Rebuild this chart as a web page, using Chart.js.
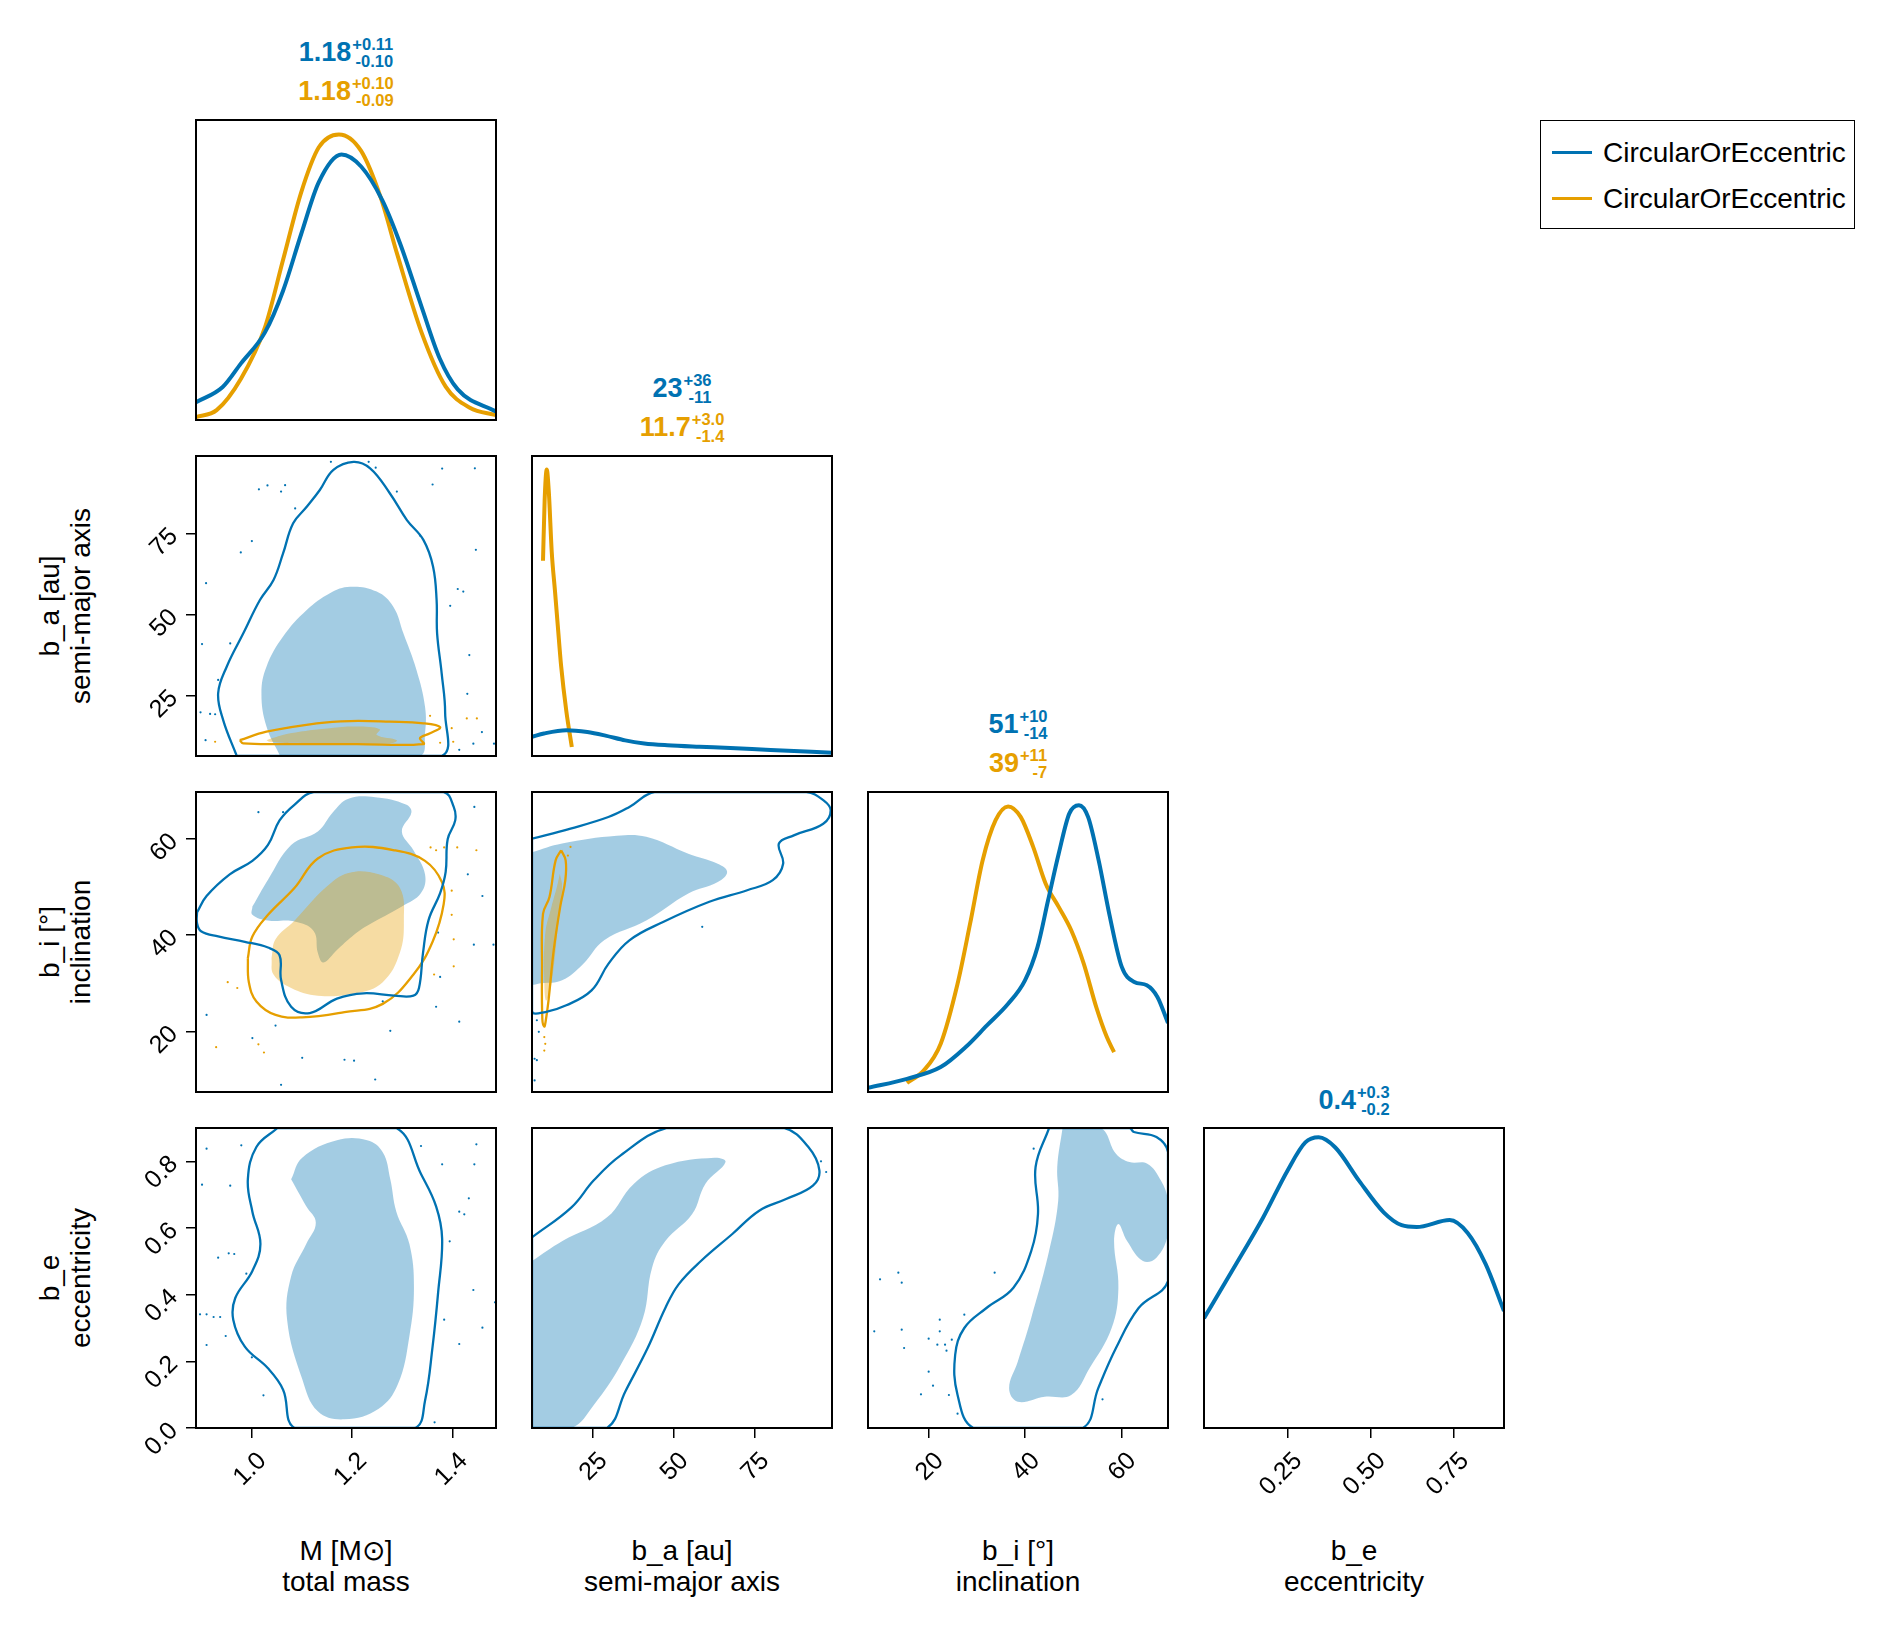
<!DOCTYPE html>
<html>
<head>
<meta charset="utf-8">
<title>corner plot</title>
<script src="https://cdn.jsdelivr.net/npm/chart.js@4.4.1/dist/chart.umd.min.js"></script>
<style>
  body { margin: 0; background: #fff; }
  #fig { position: relative; width: 1888px; height: 1626px; font-family: "Liberation Sans", Arial, sans-serif; overflow: hidden; }
  #fig canvas { position: absolute; }
  .ttl { position: absolute; white-space: nowrap; font-weight: bold; font-size: 27px; line-height: 31px; transform: translateX(-50%); }
  .ss { display: inline-block; font-size: 16.5px; line-height: 17px; text-align: right; position: relative; top: 6px; margin-left: 1px; }
  .ss span { display: block; }
  .lab { position: absolute; width: 400px; height: 62px; font-size: 28px; line-height: 31px; text-align: center; white-space: nowrap; color: #000; }
  .legend { position: absolute; left: 1540px; top: 120px; width: 313px; height: 107px; border: 1.5px solid #000; }
  .legline { position: absolute; left: 11px; width: 40px; height: 2.5px; }
  .legtext { position: absolute; left: 62px; font-size: 28px; line-height: 31px; white-space: nowrap; }
</style>
</head>
<body>
<div id="fig"></div>
<script>
const BLUE = '#0072B2';
const ORANGE = '#E69F00';
const BLUE_FILL = 'rgba(0,114,178,0.36)';
const ORANGE_FILL = 'rgba(230,159,0,0.36)';

// axis limits and ticks
const massRange = [0.89, 1.486];
const axisRange = [6.3, 99];
const inclRange = [7.4, 69.7];
const eccRange = [0, 0.9];
const massTicks = [1.0, 1.2, 1.4];
const axisTicks = [25, 50, 75];
const inclTicks = [20, 40, 60];
const eccTicksX = [0.25, 0.5, 0.75];
const eccTicksY = [0, 0.2, 0.4, 0.6, 0.8];

// labels
const axisNames = [['M [M⊙]', 'total mass'], ['b_a [au]', 'semi-major axis'], ['b_i [°]', 'inclination'], ['b_e', 'eccentricity']];
const legendLabels = ['CircularOrEccentric', 'CircularOrEccentric'];
const statBlue = [['1.18', '+0.11', '-0.10'], ['23', '+36', '-11'], ['51', '+10', '-14'], ['0.4', '+0.3', '-0.2']];
const statOrange = [['1.18', '+0.10', '-0.09'], ['11.7', '+3.0', '-1.4'], ['39', '+11', '-7'], null];

// 1d marginals (x, relative density)
const massDensityBlue = [[0.89,0.059],[0.943,0.11],[0.979,0.188],[1.027,0.292],[1.063,0.431],[1.099,0.62],[1.134,0.793],[1.179,0.885],[1.218,0.845],[1.26,0.733],[1.296,0.586],[1.338,0.378],[1.374,0.206],[1.41,0.102],[1.486,0.028]];
const massDensityOrange = [[0.89,0.01],[0.931,0.033],[0.979,0.137],[1.027,0.309],[1.063,0.534],[1.099,0.759],[1.134,0.909],[1.174,0.952],[1.218,0.897],[1.257,0.741],[1.29,0.551],[1.338,0.292],[1.386,0.111],[1.434,0.041],[1.486,0.016]];
const axisDensityBlue = [[6.3,0.064],[10,0.075],[16.9,0.086],[23.4,0.08],[29,0.068],[35.1,0.052],[41,0.042],[48.1,0.036],[58,0.031],[67.6,0.027],[80,0.02],[99,0.011]];
const axisDensityOrange = [[9.7,0.651],[10.2,0.85],[10.85,0.955],[11.5,0.88],[12.4,0.68],[13.4,0.55],[14.3,0.43],[15.3,0.3],[16.9,0.15],[18.6,0.03]];
const inclDensityBlue = [[7.4,0.014],[15.5,0.044],[22.5,0.083],[27.7,0.15],[32.1,0.222],[36.5,0.294],[40.0,0.372],[42.6,0.483],[44.8,0.639],[47.0,0.794],[49.2,0.928],[51.2,0.956],[53.1,0.917],[55.3,0.772],[57.5,0.594],[60.1,0.417],[62.7,0.367],[65.3,0.356],[67.5,0.317],[69.7,0.23]];
const inclDensityOrange = [[15.5,0.03],[19.0,0.072],[22.5,0.161],[26.0,0.361],[28.6,0.561],[31.2,0.772],[33.9,0.906],[36.5,0.952],[39.1,0.917],[41.7,0.817],[44.3,0.694],[47.0,0.617],[49.6,0.539],[52.2,0.428],[54.8,0.283],[57.0,0.183],[58.5,0.133]];
const eccDensityBlue = [[0,0.366],[0.087,0.529],[0.177,0.701],[0.25,0.857],[0.304,0.952],[0.344,0.969],[0.394,0.935],[0.466,0.823],[0.539,0.719],[0.593,0.676],[0.638,0.67],[0.737,0.693],[0.791,0.65],[0.845,0.546],[0.9,0.39]];

// 2d credible regions: outer lines and inner filled areas
const massAxisBlueOuter = [[0.971,6.3],[0.944,17.4],[0.934,25.7],[0.951,33.9],[0.984,44.2],[1.017,54.5],[1.044,60.7],[1.063,68.9],[1.083,78.2],[1.11,83.3],[1.136,88.5],[1.163,94.7],[1.203,97.2],[1.236,95.2],[1.275,87.5],[1.309,79.2],[1.342,73.0],[1.361,64.8],[1.368,54.5],[1.369,44.2],[1.378,31.9],[1.385,19.5],[1.378,6.3],[1.17,6.3]];
const massAxisBlueInner = [[1.057,6.3],[1.03,15.4],[1.02,25.7],[1.03,33.9],[1.063,43.2],[1.11,51.4],[1.156,56.6],[1.196,58.6],[1.249,57.1],[1.282,52.4],[1.302,44.2],[1.328,32.9],[1.345,21.5],[1.345,13.3],[1.335,6.3],[1.2,6.3]];
const massAxisOrangeOuter = [[0.977,11.2],[1.03,13.8],[1.13,16.4],[1.196,17.1],[1.275,16.9],[1.342,16.4],[1.375,15.2],[1.355,13.3],[1.335,11.8],[1.342,10.0],[1.209,10.0],[1.077,10.0],[0.984,10.2]];
const massAxisOrangeInner = [[1.03,11.2],[1.077,13.3],[1.156,14.9],[1.209,15.4],[1.255,14.6],[1.249,12.8],[1.289,11.2],[1.275,10.2],[1.143,10.2],[1.037,10.7]];
const massAxisDotsBlue = [[1.158,97.2],[1.233,97.2],[1.247,95.4],[1.379,95.1],[1.444,95.2],[1.015,88.7],[1.032,89.9],[1.059,88.0],[1.067,90.0],[1.087,82.8],[1.289,88.0],[1.36,90.2],[1.001,72.7],[0.979,69.2],[1.335,74.4],[1.446,70.0],[0.91,59.7],[1.41,57.9],[1.421,57.1],[1.395,52.7],[0.902,40.9],[0.958,41.1],[1.433,37.5],[0.934,29.8],[1.429,25.5],[0.899,19.8],[0.918,19.3],[0.928,19.2],[0.909,11.2],[1.458,13.7],[1.441,10.1],[1.482,10.1],[1.413,8.2]];
const massAxisDotsOrange = [[0.928,10.7],[1.401,10.7],[1.428,17.9],[1.448,17.9],[1.355,18.7],[1.398,14.9],[1.375,10.4]];

const massInclBlueOuter = [[0.892,44.7],[0.911,48.1],[0.957,52.6],[1.002,55.4],[1.033,58.7],[1.056,63.8],[1.086,67.1],[1.124,69.7],[1.25,69.7],[1.382,69.7],[1.402,66.6],[1.405,63.8],[1.39,59.9],[1.386,53.1],[1.375,48.7],[1.352,43.1],[1.341,36.3],[1.333,29.0],[1.322,27.4],[1.284,27.4],[1.223,27.9],[1.17,26.8],[1.116,23.8],[1.079,25.1],[1.059,30.7],[1.056,35.8],[1.033,37.4],[0.987,38.6],[0.934,39.7],[0.9,40.8],[0.892,42.5]];
const massInclBlueInner = [[1.002,45.9],[1.033,51.5],[1.079,58.7],[1.132,61.5],[1.162,65.5],[1.193,68.3],[1.246,68.6],[1.307,67.1],[1.318,65.5],[1.299,61.5],[1.322,57.6],[1.345,52.6],[1.337,48.7],[1.299,45.9],[1.23,41.9],[1.2,39.7],[1.17,36.9],[1.143,34.3],[1.132,36.3],[1.124,40.8],[1.086,42.8],[1.033,43.0],[1.002,44.2]];
const massInclOrangeOuter = [[0.993,35.2],[1.002,39.7],[1.033,44.2],[1.086,49.8],[1.132,55.9],[1.2,58.2],[1.284,57.6],[1.345,55.4],[1.379,50.9],[1.382,46.4],[1.36,38.6],[1.322,31.8],[1.261,25.7],[1.185,24.0],[1.101,22.9],[1.048,23.4],[1.01,26.2],[0.995,30.2]];
const massInclOrangeInner = [[1.04,35.2],[1.048,39.1],[1.086,43.0],[1.147,49.8],[1.193,52.9],[1.253,52.6],[1.295,49.8],[1.303,43.0],[1.295,36.3],[1.261,30.2],[1.208,27.9],[1.132,27.4],[1.079,29.0],[1.044,31.8]];
const massInclDotsBlue = [[1.014,65.5],[1.063,65.5],[1.443,66.6],[1.43,52.6],[1.459,48.1],[1.442,38.0],[1.413,22.0],[1.371,40.5],[1.375,31.3],[0.911,23.4],[1.002,18.6],[1.048,21.2],[1.059,8.9],[1.101,14.5],[1.185,14.1],[1.204,13.9],[1.246,10.0],[1.276,20.1],[1.367,25.1],[1.481,38.0],[1.261,26.2]];
const massInclDotsOrange = [[1.356,58.2],[1.367,57.6],[1.383,58.2],[1.409,58.2],[1.447,57.6],[1.398,44.2],[1.402,39.1],[1.402,33.5],[1.363,31.8],[0.93,16.7],[0.953,30.2],[0.972,29.0],[1.014,17.3],[1.025,15.6],[1.398,49.2]];

const massEccBlueOuter = [[1.052,0.9],[1.01,0.843],[0.993,0.746],[1.002,0.649],[1.018,0.552],[1.002,0.471],[0.968,0.39],[0.964,0.325],[0.987,0.244],[1.033,0.179],[1.063,0.115],[1.086,0],[1.2,0],[1.325,0],[1.345,0.082],[1.36,0.244],[1.371,0.406],[1.379,0.568],[1.367,0.665],[1.337,0.762],[1.288,0.9],[1.17,0.9]];
const massEccBlueInner = [[1.079,0.746],[1.101,0.811],[1.17,0.863],[1.23,0.863],[1.261,0.827],[1.276,0.746],[1.288,0.649],[1.314,0.552],[1.323,0.422],[1.314,0.276],[1.291,0.131],[1.253,0.058],[1.185,0.026],[1.132,0.05],[1.101,0.147],[1.071,0.325],[1.079,0.455],[1.109,0.552],[1.128,0.616],[1.109,0.665]];
const massEccDotsBlue = [[0.911,0.838],[0.98,0.848],[0.902,0.73],[0.958,0.727],[0.934,0.511],[0.955,0.524],[0.966,0.522],[0.99,0.463],[0.911,0.341],[0.898,0.341],[0.925,0.333],[0.938,0.333],[0.949,0.276],[0.911,0.249],[1.001,0.212],[1.024,0.098],[1.337,0.846],[1.447,0.851],[1.443,0.791],[1.379,0.791],[1.432,0.689],[1.413,0.649],[1.423,0.641],[1.394,0.56],[1.441,0.414],[1.484,0.377],[1.459,0.301],[1.413,0.252],[1.364,0.017],[1.383,0.325]];

const axisInclBlueOuter = [[6.3,60.0],[18.2,62.1],[29.9,64.5],[36.4,66.6],[44.2,69.7],[70,69.7],[91.1,69.7],[96.3,68.0],[98.6,65.9],[96.3,63.1],[87.2,60.7],[82.6,59.0],[83.9,54.8],[80.7,51.4],[72.8,49.3],[61.1,46.9],[46.8,42.7],[36.4,38.9],[29.9,34.0],[24.7,28.5],[16.9,25.4],[10.4,24.0],[6.3,24.2],[6.3,42]];
const axisInclBlueInner = [[6.3,57.2],[15.6,59.0],[32.5,60.6],[41.6,60.4],[54.6,56.9],[63.7,54.8],[66.6,53.1],[63.7,51.0],[54.6,48.6],[41.6,43.0],[28.6,38.9],[22.1,34.0],[15.6,30.6],[9.1,30.0],[6.3,30.0],[6.3,44]];
const axisInclOrangeOuter = [[15.3,57.6],[16.7,55.5],[16.6,51.4],[15.0,45.8],[13.0,36.8],[11.4,26.4],[10.5,22.0],[10.1,21.0],[9.5,22.5],[9.4,33.4],[9.7,44.4],[11.7,47.9],[13.6,55.5]];
const axisInclOrangeInner = [[14.9,52.7],[15.6,50.0],[14.3,41.7],[12.3,29.9],[10.7,26.4],[10.1,29.9],[10.4,40.3],[12.3,45.8],[14.0,50.0]];
const axisInclDotsBlue = [[7.8,22.3],[8.4,19.9],[7.1,14.3],[7.8,14.0],[7.1,9.8],[58.9,41.7]];
const axisInclDotsOrange = [[10.1,18.8],[10.1,16.0],[10.4,17.4],[18.2,58.3],[17.4,56.5]];

const axisEccBlueOuter = [[6.3,0.572],[18.5,0.662],[25.4,0.743],[33.7,0.818],[48.0,0.9],[66,0.9],[84.1,0.9],[91.7,0.843],[95.1,0.773],[93.1,0.727],[84.8,0.687],[76.5,0.652],[68.2,0.582],[58.5,0.501],[51.6,0.431],[47.5,0.36],[42.0,0.239],[35.1,0.109],[29.5,0],[18,0],[6.3,0],[6.3,0.3]];
const axisEccBlueInner = [[6.3,0.501],[15.7,0.561],[29.5,0.632],[37.8,0.733],[47.5,0.788],[62.7,0.811],[66.1,0.798],[59.9,0.733],[55.8,0.642],[47.5,0.561],[43.4,0.481],[40.6,0.33],[33.7,0.189],[25.4,0.069],[18.5,0],[6.3,0],[6.3,0.25]];
const axisEccDotsBlue = [[95.6,0.8],[97.2,0.768]];

const inclEccBlueOuter = [[45.0,0.9],[42.2,0.783],[42.7,0.642],[41.3,0.531],[37.6,0.421],[32.0,0.36],[27.4,0.3],[25.5,0.219],[26.0,0.099],[29.3,0],[40,0],[52.0,0],[55.2,0.119],[58.9,0.24],[63.6,0.36],[69.7,0.441],[69.7,0.65],[69.7,0.828],[67.3,0.873],[62.6,0.888],[61.7,0.9],[53,0.9]];
const inclEccBlueInner = [[47.8,0.9],[55.7,0.9],[58.9,0.823],[61.7,0.798],[65.4,0.793],[68.2,0.743],[69.7,0.682],[69.7,0.582],[67.3,0.511],[64.5,0.501],[61.2,0.561],[59.4,0.612],[58.5,0.561],[59.4,0.421],[58.0,0.3],[53.4,0.179],[49.6,0.099],[44.1,0.094],[38.5,0.079],[36.7,0.119],[38.5,0.199],[41.3,0.33],[45.0,0.531],[46.9,0.682],[46.7,0.783]];
const inclEccDotsBlue = [[9.9,0.446],[13.7,0.466],[14.4,0.436],[14.4,0.295],[14.9,0.24],[20.0,0.268],[22.3,0.325],[22.3,0.29],[21.8,0.25],[23.4,0.25],[23.7,0.232],[24.8,0.265],[20.0,0.169],[18.4,0.101],[20.9,0.127],[24.2,0.099],[26.0,0.043],[27.4,0.34],[33.7,0.466],[41.8,0.838],[56.1,0.086],[8.7,0.29]];

// layout of the grid (px)
const PANEL_X0 = 196, PANEL_Y0 = 120, STEP = 336, SIZE = 300;
const MARGIN_L = 100, MARGIN_T = 10, MARGIN_R = 10, MARGIN_B = 100;

const pts = arr => arr.map(([x, y]) => ({x, y}));
const closed = arr => pts(arr.concat([arr[0]]));

function curve(data, color) {
  return {data: pts(data), borderColor: color, borderWidth: 4, pointRadius: 0, cubicInterpolationMode: 'monotone', fill: false, order: 1};
}
function contour(data, color) {
  return {data: closed(data), borderColor: color, borderWidth: 2.3, pointRadius: 0, tension: 0.4, fill: false, order: 1};
}
function region(data, color) {
  return {data: closed(data), borderColor: 'transparent', borderWidth: 0, pointRadius: 0, tension: 0.4, fill: false, areaFill: color, order: 3};
}
function dots(data, color) {
  return {data: pts(data), showLine: false, pointRadius: 1.1, pointBorderWidth: 0, pointBackgroundColor: color, order: 2};
}

// fill a closed dataset path inside the chart area
const regionFill = {
  id: 'regionFill',
  beforeDatasetDraw(chart, args) {
    const ds = chart.data.datasets[args.index];
    if (!ds.areaFill) return;
    const meta = args.meta;
    const a = chart.chartArea;
    const ctx = chart.ctx;
    if (meta.dataset && meta.dataset.updateControlPoints) meta.dataset.updateControlPoints(a, 'x');
    const p = meta.data;
    ctx.save();
    ctx.beginPath();
    ctx.rect(a.left, a.top, a.right - a.left, a.bottom - a.top);
    ctx.clip();
    ctx.beginPath();
    p.forEach((pt, i) => {
      if (i === 0) { ctx.moveTo(pt.x, pt.y); return; }
      const q = p[i - 1];
      if (q.cp2x !== undefined && pt.cp1x !== undefined) ctx.bezierCurveTo(q.cp2x, q.cp2y, pt.cp1x, pt.cp1y, pt.x, pt.y);
      else ctx.lineTo(pt.x, pt.y);
    });
    ctx.closePath();
    ctx.fillStyle = ds.areaFill;
    ctx.fill();
    ctx.restore();
    return false;
  }
};

const frame = {
  id: 'frame',
  afterDatasetsDraw(chart) {
    const {ctx, chartArea: a} = chart;
    ctx.save();
    ctx.strokeStyle = '#000';
    ctx.lineWidth = 2;
    ctx.strokeRect(a.left, a.top, a.right - a.left, a.bottom - a.top);
    ctx.restore();
  }
};

// rotated tick labels (45 deg) for both axes
const tickText = {
  id: 'tickText',
  afterDraw(chart, args, opts) {
    const ctx = chart.ctx, a = chart.chartArea;
    ctx.save();
    ctx.fillStyle = '#000';
    ctx.font = '25px "Liberation Sans", Arial, sans-serif';
    ctx.textAlign = 'right';
    ctx.textBaseline = 'middle';
    const put = (txt, x, y) => {
      ctx.save();
      ctx.translate(x, y);
      ctx.rotate(-Math.PI / 4);
      ctx.fillText(txt, 0, 0);
      ctx.restore();
    };
    if (opts.xDec >= 0) {
      const s = chart.scales.x;
      s.ticks.forEach(t => put(t.value.toFixed(opts.xDec), s.getPixelForValue(t.value) + 11, a.bottom + 29));
    }
    if (opts.yDec >= 0) {
      const s = chart.scales.y;
      s.ticks.forEach(t => put(t.value.toFixed(opts.yDec), a.left - 22, s.getPixelForValue(t.value) - 1));
    }
    ctx.restore();
  }
};

function axisOpts(range, ticks, show, dir) {
  return {
    type: 'linear',
    min: range[0],
    max: range[1],
    afterBuildTicks: s => { s.ticks = ticks.map(v => ({value: v})); },
    afterFit: s => { if (dir === 'x') s.height = MARGIN_B; else s.width = MARGIN_L; },
    ticks: {display: false},
    grid: {display: show, drawOnChartArea: false, drawTicks: true, tickLength: 10, color: '#000', lineWidth: 1.5},
    border: {display: false}
  };
}

const ranges = [massRange, axisRange, inclRange, eccRange];
const xTickSets = [massTicks, axisTicks, inclTicks, eccTicksX];
const yTickSets = [massTicks, axisTicks, inclTicks, eccTicksY];
const xDecimals = [1, 0, 0, 2];
const yDecimals = [1, 0, 0, 1];

// orange regions listed before blue ones so they are painted over them
const panels = [
  {row: 0, col: 0, sets: [curve(massDensityBlue, BLUE), curve(massDensityOrange, ORANGE)]},
  {row: 1, col: 1, sets: [curve(axisDensityBlue, BLUE), curve(axisDensityOrange, ORANGE)]},
  {row: 2, col: 2, sets: [curve(inclDensityBlue, BLUE), curve(inclDensityOrange, ORANGE)]},
  {row: 3, col: 3, sets: [curve(eccDensityBlue, BLUE)]},
  {row: 1, col: 0, sets: [region(massAxisOrangeInner, ORANGE_FILL), region(massAxisBlueInner, BLUE_FILL),
    dots(massAxisDotsBlue, BLUE), dots(massAxisDotsOrange, ORANGE),
    contour(massAxisBlueOuter, BLUE), contour(massAxisOrangeOuter, ORANGE)]},
  {row: 2, col: 0, sets: [region(massInclOrangeInner, ORANGE_FILL), region(massInclBlueInner, BLUE_FILL),
    dots(massInclDotsBlue, BLUE), dots(massInclDotsOrange, ORANGE),
    contour(massInclBlueOuter, BLUE), contour(massInclOrangeOuter, ORANGE)]},
  {row: 3, col: 0, sets: [region(massEccBlueInner, BLUE_FILL), dots(massEccDotsBlue, BLUE), contour(massEccBlueOuter, BLUE)]},
  {row: 2, col: 1, sets: [region(axisInclOrangeInner, ORANGE_FILL), region(axisInclBlueInner, BLUE_FILL),
    dots(axisInclDotsBlue, BLUE), dots(axisInclDotsOrange, ORANGE),
    contour(axisInclBlueOuter, BLUE), contour(axisInclOrangeOuter, ORANGE)]},
  {row: 3, col: 1, sets: [region(axisEccBlueInner, BLUE_FILL), dots(axisEccDotsBlue, BLUE), contour(axisEccBlueOuter, BLUE)]},
  {row: 3, col: 2, sets: [region(inclEccBlueInner, BLUE_FILL), dots(inclEccDotsBlue, BLUE), contour(inclEccBlueOuter, BLUE)]}
];

const fig = document.getElementById('fig');

panels.forEach(p => {
  const cv = document.createElement('canvas');
  cv.width = MARGIN_L + SIZE + MARGIN_R;
  cv.height = MARGIN_T + SIZE + MARGIN_B;
  cv.style.left = (PANEL_X0 + p.col * STEP - MARGIN_L) + 'px';
  cv.style.top = (PANEL_Y0 + p.row * STEP - MARGIN_T) + 'px';
  fig.appendChild(cv);

  const diag = p.row === p.col;
  const showX = p.row === 3;
  const showY = p.col === 0 && !diag;
  const yRange = diag ? [0, 1] : ranges[p.row];
  const yTicks = diag ? [] : yTickSets[p.row];

  new Chart(cv, {
    type: 'line',
    data: {datasets: p.sets},
    options: {
      responsive: false,
      animation: false,
      events: [],
      layout: {padding: {top: MARGIN_T, right: MARGIN_R, left: 0, bottom: 0}},
      plugins: {
        legend: {display: false},
        tooltip: {enabled: false},
        tickText: {xDec: showX ? xDecimals[p.col] : -1, yDec: showY ? yDecimals[p.row] : -1}
      },
      scales: {
        x: axisOpts(ranges[p.col], showX ? xTickSets[p.col] : [], showX, 'x'),
        y: axisOpts(yRange, yTicks, showY, 'y')
      }
    },
    plugins: [regionFill, frame, tickText]
  });
});

// statistics above the diagonal
function addStat(stat, color, cx, baseline) {
  const d = document.createElement('div');
  d.className = 'ttl';
  d.style.color = color;
  d.style.left = cx + 'px';
  d.style.top = (baseline - 31) + 'px';
  d.innerHTML = stat[0] + '<span class="ss"><span>' + stat[1] + '</span><span>' + stat[2] + '</span></span>';
  fig.appendChild(d);
}
for (let k = 0; k < 4; k++) {
  const cx = PANEL_X0 + k * STEP + SIZE / 2;
  const top = PANEL_Y0 + k * STEP;
  if (statOrange[k]) {
    addStat(statBlue[k], BLUE, cx, top - 59);
    addStat(statOrange[k], ORANGE, cx, top - 20);
  } else {
    addStat(statBlue[k], BLUE, cx, top - 19);
  }
}

// axis names
for (let k = 0; k < 4; k++) {
  const d = document.createElement('div');
  d.className = 'lab';
  d.style.left = (PANEL_X0 + k * STEP + SIZE / 2 - 200) + 'px';
  d.style.top = (1560 - 25) + 'px';
  d.innerHTML = axisNames[k][0] + '<br>' + axisNames[k][1];
  fig.appendChild(d);
}
for (let k = 1; k < 4; k++) {
  const d = document.createElement('div');
  d.className = 'lab';
  const cy = PANEL_Y0 + k * STEP + SIZE / 2;
  d.style.left = (65 - 200) + 'px';
  d.style.top = (cy - 31) + 'px';
  d.style.transform = 'rotate(-90deg)';
  d.innerHTML = axisNames[k][0] + '<br>' + axisNames[k][1];
  fig.appendChild(d);
}

// legend
const leg = document.createElement('div');
leg.className = 'legend';
[BLUE, ORANGE].forEach((c, i) => {
  const ln = document.createElement('div');
  ln.className = 'legline';
  ln.style.background = c;
  ln.style.top = (30 + i * 46) + 'px';
  leg.appendChild(ln);
  const tx = document.createElement('div');
  tx.className = 'legtext';
  tx.style.top = (16 + i * 46) + 'px';
  tx.textContent = legendLabels[i];
  leg.appendChild(tx);
});
fig.appendChild(leg);
</script>
</body>
</html>
